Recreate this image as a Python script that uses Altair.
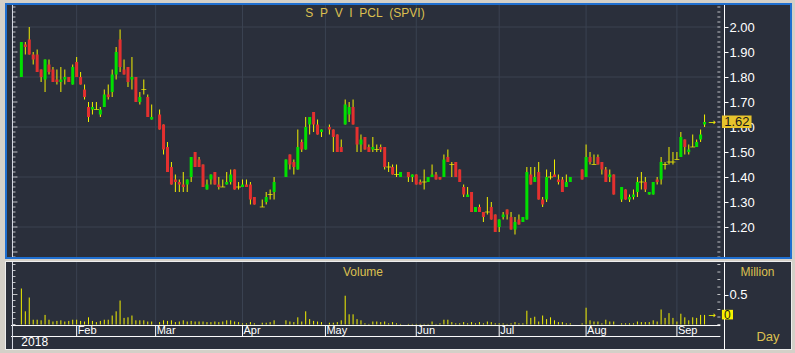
import altair as alt
import pandas as pd

# ---------------- data ----------------
START, END = "2018-01-12", "2018-09-12"
HOLIDAYS = ["2018-03-01", "2018-04-06", "2018-04-13", "2018-04-16", "2018-05-01",
            "2018-05-29", "2018-07-27", "2018-07-30", "2018-08-13"]
MONTH_LABELS = ["Feb", "Mar", "Apr", "May", "Jun", "Jul", "Aug", "Sep"]
YEAR_LABEL = "2018"
TITLE = "S\u00a0\u00a0P\u00a0\u00a0V\u00a0\u00a0I\u00a0\u00a0PCL\u00a0\u00a0(SPVI)"

OPEN = [1.80,1.93,1.95,1.89,1.89,1.83,1.79,1.85,1.83,1.79, 1.78,1.79,1.80,1.77,1.86,1.80,1.75,1.68,1.67,1.67,
        1.65,1.68,1.73,1.74,1.81,1.95,1.83,1.84,1.79,1.80, 1.70,1.75,1.72,1.63,
        1.65,1.61,1.52,1.44,1.39,1.38,1.37,1.37,1.40,1.50, 1.47,1.45,1.35,1.39,1.42,1.37,1.36,1.37,1.38,1.43,
        1.36,1.36,1.37,1.37,1.32,
        1.28,1.30,1.33,1.34,
        1.40,1.49,1.46,1.43,1.54,1.51,1.61,1.66,1.61,1.58,
        1.60,1.59,1.57,1.52,1.61,1.65,1.68,1.60,1.53,1.56, 1.52,1.51,1.51,1.52,1.52,1.44,1.44,1.41,1.40,
        1.42,1.40,1.41,1.38,1.38,1.38,1.40,1.41,1.40,1.40, 1.48,1.45,1.46,1.43,1.36,1.32,1.34,1.26,1.28,1.26,
        1.26,1.28,1.25,1.20,1.24,1.27,1.24,1.19,1.23,1.22, 1.23,1.41,1.38,1.42,1.31,1.31,1.40,1.41,1.39,1.39,
        1.36,1.38,
        1.43,1.40,1.48,1.45,1.48,1.46,1.43,1.40,1.41,
        1.31,1.35,1.31,1.32,1.34,1.38,1.38,1.33,1.33,1.39, 1.39,1.45,1.46,1.46,1.47,1.48,1.55,1.50,1.52,1.52,
        1.55,1.61]
HIGH = [1.94,1.94,2.00,1.90,1.91,1.83,1.87,1.87,1.84,1.83, 1.84,1.83,1.80,1.85,1.88,1.82,1.77,1.70,1.70,1.70,
        1.68,1.75,1.77,1.83,1.92,1.99,1.87,1.84,1.88,1.80, 1.74,1.79,1.73,1.69,
        1.67,1.61,1.54,1.46,1.41,1.39,1.42,1.39,1.48,1.50, 1.48,1.45,1.39,1.41,1.42,1.40,1.39,1.42,1.43,1.43,
        1.38,1.39,1.39,1.38,1.32,
        1.31,1.34,1.35,1.40,
        1.47,1.49,1.47,1.59,1.55,1.64,1.64,1.66,1.63,1.59,
        1.61,1.59,1.57,1.55,1.71,1.70,1.71,1.60,1.57,1.56, 1.53,1.56,1.53,1.53,1.52,1.46,1.45,1.45,1.42,
        1.42,1.41,1.41,1.39,1.43,1.40,1.45,1.42,1.40,1.49, 1.51,1.46,1.46,1.43,1.37,1.36,1.34,1.28,1.29,1.26,
        1.32,1.30,1.25,1.23,1.26,1.27,1.26,1.24,1.25,1.24, 1.44,1.44,1.44,1.46,1.32,1.43,1.42,1.47,1.41,1.40,
        1.41,1.40,
        1.43,1.53,1.50,1.49,1.49,1.46,1.44,1.43,1.41,
        1.36,1.35,1.33,1.35,1.40,1.42,1.40,1.34,1.38,1.40, 1.48,1.46,1.52,1.50,1.50,1.58,1.55,1.53,1.57,1.55,
        1.59,1.65]
LOW = [1.80,1.89,1.89,1.85,1.82,1.78,1.74,1.81,1.78,1.77, 1.74,1.77,1.78,1.77,1.80,1.77,1.71,1.62,1.65,1.67,
       1.64,1.68,1.71,1.72,1.79,1.82,1.81,1.76,1.75,1.70, 1.69,1.73,1.64,1.63,
       1.59,1.49,1.42,1.37,1.34,1.34,1.34,1.34,1.38,1.44, 1.44,1.36,1.35,1.37,1.37,1.35,1.36,1.37,1.37,1.35,
       1.35,1.36,1.36,1.29,1.29,
       1.28,1.29,1.31,1.31,
       1.40,1.43,1.41,1.43,1.50,1.51,1.57,1.58,1.57,1.56,
       1.57,1.50,1.50,1.50,1.61,1.62,1.61,1.50,1.50,1.51, 1.50,1.50,1.50,1.50,1.43,1.42,1.41,1.40,1.40,
       1.38,1.38,1.37,1.37,1.35,1.38,1.40,1.39,1.39,1.40, 1.46,1.40,1.40,1.38,1.32,1.32,1.26,1.26,1.26,1.22,
       1.25,1.23,1.18,1.18,1.23,1.23,1.19,1.17,1.21,1.22, 1.23,1.37,1.38,1.31,1.28,1.30,1.39,1.40,1.37,1.34,
       1.36,1.38,
       1.39,1.40,1.45,1.45,1.45,1.41,1.38,1.38,1.33,
       1.30,1.31,1.30,1.31,1.32,1.35,1.34,1.33,1.33,1.37, 1.37,1.43,1.45,1.45,1.47,1.48,1.49,1.49,1.52,1.52,
       1.54,1.60]
CLOSE = [1.94,1.92,1.89,1.87,1.82,1.80,1.87,1.82,1.78,1.78, 1.79,1.80,1.78,1.84,1.80,1.77,1.72,1.64,1.68,1.67,
         1.67,1.73,1.72,1.81,1.90,1.84,1.81,1.78,1.80,1.70, 1.72,1.75,1.64,1.64,
         1.59,1.51,1.42,1.37,1.38,1.37,1.36,1.39,1.48,1.44, 1.44,1.36,1.37,1.41,1.37,1.36,1.36,1.38,1.41,1.35,
         1.36,1.37,1.36,1.31,1.29,
         1.28,1.32,1.33,1.38,
         1.47,1.45,1.44,1.52,1.51,1.60,1.64,1.61,1.57,1.59,
         1.59,1.56,1.50,1.50,1.69,1.68,1.61,1.53,1.55,1.51, 1.50,1.52,1.51,1.51,1.44,1.44,1.41,1.41,1.42,
         1.40,1.41,1.37,1.37,1.38,1.40,1.41,1.39,1.39,1.47, 1.46,1.45,1.40,1.38,1.33,1.33,1.26,1.28,1.26,1.24,
         1.26,1.23,1.18,1.23,1.25,1.25,1.19,1.22,1.21,1.24, 1.42,1.37,1.40,1.31,1.29,1.40,1.40,1.40,1.38,1.34,
         1.38,1.40,
         1.39,1.48,1.46,1.45,1.45,1.43,1.38,1.41,1.33,
         1.36,1.31,1.32,1.33,1.38,1.38,1.35,1.34,1.38,1.38, 1.46,1.45,1.46,1.46,1.47,1.56,1.52,1.51,1.52,1.54,
         1.57,1.62]
VOLUME = [.60,.22,.45,.08,.08,.07,.16,.08,.05,.06, .07,.05,.06,.08,.08,.06,.05,.12,.06,.04,
          .06,.08,.08,.15,.22,.40,.11,.12,.15,.07, .07,.07,.05,.05,
          .04,.07,.06,.07,.04,.05,.07,.05,.06,.05, .05,.05,.04,.04,.05,.04,.05,.07,.07,.05,
          .04,.02,.02,.04,.02,
          .03,.03,.04,.07,
          .07,.05,.04,.12,.05,.22,.09,.06,.05,.04,
          .03,.03,.04,.07,.48,.17,.17,.09,.07,.02, .01,.05,.05,.04,.05,.02,.04,.02,.01,
          .01,.01,.01,.01,.01,.01,.05,.01,.02,.08, .08,.04,.02,.02,.04,.02,.04,.02,.04,.02,
          .05,.04,.02,.02,.02,.01,.02,.04,.02,.02, .23,.11,.13,.05,.15,.09,.12,.07,.04,.04,
          .02,.02,
          .02,.28,.07,.05,.05,.02,.08,.05,.05,
          .02,.02,.02,.02,.05,.04,.04,.04,.07,.05, .25,.11,.19,.11,.05,.18,.12,.07,.12,.11,
          .16,.16]

PRICE_LABELS = [1.2, 1.3, 1.4, 1.5, 1.6, 1.7, 1.8, 1.9, 2.0]
PRICE_GRID = [1.2, 1.4, 1.6, 1.8, 2.0]
VOL_LABELS = [0.5]
LAST_PRICE_TEXT = "1.62"
LAST_VOL_TEXT = "0"

# ---------------- styling / layout ----------------
BG = "#2a2f3b"
GRID = "#3a4251"
FRAME = "#d4d0c8"
BLUE = "#1f6fd0"
YEL = "#f2f000"
GOLD = "#dcc050"
GREEN = "#00e000"
RED = "#e3302f"
EDGE = "#d8dde6"
FONT = "Liberation Sans"

W, H = 785, 345                 # single view: price band 0..254, volume band 258..345
TOP_H, BOT_Y = 254, 258
X0, X1 = -2.625, 193.625        # weekday-slot domain (4 px per weekday)
AXIS_SLOT = 177.0               # slot where right axis sits
INNER_TICK_SLOT = 176.625       # 3px ticks just left of the right axis
EDGE_SLOT = -2.25               # left edge line
EDGE_MINOR_SLOT, EDGE_MAJOR_SLOT = -1.875, -1.625
P0, P1 = 1.076, 2.092
V0, V1 = -0.408, 1.042
AXIS_V, LOWER_V, LABEL_V, YEAR_V = -0.017, -0.2, -0.115, -0.29

# ---------------- tables ----------------
bdays = pd.bdate_range(START, END)
hol = set(pd.to_datetime(HOLIDAYS))
slots = [i for i, d in enumerate(bdays) if d not in hol]
assert len(slots) == len(OPEN) == len(HIGH) == len(LOW) == len(CLOSE) == len(VOLUME)
df = pd.DataFrame({"slot": slots, "o": OPEN, "h": HIGH, "l": LOW, "c": CLOSE, "v": VOLUME})
df["dir"] = ["up" if c > o else ("down" if c < o else "doji") for o, c in zip(df.o, df.c)]
df["zero"] = 0.0

first_slot = pd.Series(range(len(bdays)), index=bdays).groupby(bdays.to_period("M")).first()
months = pd.DataFrame({"slot": [int(s) for s in first_slot.values[1:]], "label": MONTH_LABELS})
months["p0"], months["p1"] = P0, P1
months["vt"], months["va"], months["vl"], months["vlab"] = V1, AXIS_V, LOWER_V, LABEL_V

last_c = float(df.c.iloc[-1])
last_v = float(df.v.iloc[-1])

xs = alt.Scale(domain=[X0, X1], nice=False, zero=False)
ps = alt.Scale(domain=[P0, P1], range=[TOP_H, 0], nice=False, zero=False)
vs = alt.Scale(domain=[V0, V1], range=[H, BOT_Y], nice=False, zero=False)
X = alt.X("slot:Q", scale=xs, axis=None)


def PY(f):
    return alt.Y(f, scale=ps, axis=None)


def VY(f):
    return alt.Y(f, scale=vs, axis=None)


one = pd.DataFrame({"k": [0]})

# ---------------- decoration: panel separator ----------------
sep = alt.Chart(one).mark_rect(color=FRAME).encode(
    x=alt.value(-2), x2=alt.value(W + 2), y=alt.value(TOP_H + 1), y2=alt.value(BOT_Y))

# ---------------- price panel ----------------
vgrid = alt.Chart(months).mark_rule(color=GRID).encode(x=X, y=PY("p0:Q"), y2="p1:Q")
hgrid_df = pd.DataFrame({"p": PRICE_GRID, "a": X0, "b": AXIS_SLOT})
hgrid = alt.Chart(hgrid_df).mark_rule(color=GRID).encode(
    y=PY("p:Q"), x=alt.X("a:Q", scale=xs, axis=None), x2="b:Q")
wick = alt.Chart(df).mark_rule(color=YEL, strokeWidth=1).encode(
    x=X,
    y=alt.Y("l:Q", scale=ps, axis=alt.Axis(
        orient="right", offset=-67, values=PRICE_LABELS, format=".2f", grid=False,
        domainColor="white", tickColor="white", tickSize=4, labelColor="white",
        labelFont=FONT, labelFontSize=13, labelPadding=1, title=None)),
    y2="h:Q")
body = alt.Chart(df).transform_filter("datum.o != datum.c").mark_bar(width=3).encode(
    x=X, y=PY("o:Q"), y2="c:Q",
    color=alt.Color("dir:N", scale=alt.Scale(domain=["up", "down"], range=[GREEN, RED]), legend=None))
doji = alt.Chart(df).transform_filter("datum.o == datum.c").mark_tick(
    orient="horizontal", size=5, thickness=1, color=YEL).encode(x=X, y=PY("o:Q"))

p_minor = [round(1.08 + 0.02 * k, 2) for k in range(51)]
pm = pd.DataFrame({"p": p_minor})
pm["major"] = [abs(p * 10 - round(p * 10)) < 1e-6 for p in p_minor]
pm["inner"], pm["edge_min"], pm["edge_maj"] = INNER_TICK_SLOT, EDGE_MINOR_SLOT, EDGE_MAJOR_SLOT
p_inner = alt.Chart(pm).mark_tick(orient="horizontal", size=3, thickness=1, color="white").encode(
    x=alt.X("inner:Q", scale=xs, axis=None), y=PY("p:Q"))
p_edge_min = alt.Chart(pm).transform_filter("!datum.major").mark_tick(
    orient="horizontal", size=3, thickness=1, color="white").encode(
    x=alt.X("edge_min:Q", scale=xs, axis=None), y=PY("p:Q"))
p_edge_maj = alt.Chart(pm).transform_filter("datum.major").mark_tick(
    orient="horizontal", size=5, thickness=1, color="white").encode(
    x=alt.X("edge_maj:Q", scale=xs, axis=None), y=PY("p:Q"))
edge_df = pd.DataFrame({"s": [EDGE_SLOT], "p0": [P0], "p1": [P1], "v0": [V0], "v1": [V1]})
p_edge_line = alt.Chart(edge_df).mark_rule(color=EDGE).encode(
    x=alt.X("s:Q", scale=xs, axis=None), y=PY("p0:Q"), y2="p1:Q")

ptag = pd.DataFrame({"p": [last_c], "pt": [last_c + 0.026], "pb": [last_c - 0.024],
                     "x1": [177.4], "x2": [184.9], "xt": [181.2], "xa": [174.9]})
ptag_box = alt.Chart(ptag).mark_rect(color="#e8c42c").encode(
    x=alt.X("x1:Q", scale=xs, axis=None), x2="x2:Q", y=PY("pt:Q"), y2="pb:Q")
ptag_txt = alt.Chart(ptag).mark_text(color="#1a1a1a", font=FONT, fontSize=13, baseline="middle",
                                     text=LAST_PRICE_TEXT).encode(
    x=alt.X("xt:Q", scale=xs, axis=None), y=PY("p:Q"))
ptag_arrow = alt.Chart(ptag).mark_text(color=YEL, font="DejaVu Sans", fontSize=9, baseline="middle",
                                       text="\u2192").encode(
    x=alt.X("xa:Q", scale=xs, axis=None), y=PY("p:Q"))
title = alt.Chart(one).mark_text(text=TITLE, color=GOLD, font=FONT, fontSize=12, baseline="middle").encode(
    x=alt.value(359), y=alt.value(9))

# ---------------- volume panel ----------------
vgrid_b = alt.Chart(months).mark_rule(color=GRID).encode(x=X, y=VY("vt:Q"), y2="va:Q")
vol = alt.Chart(df).mark_rule(color=YEL, strokeWidth=1).encode(
    x=X,
    y=alt.Y("v:Q", scale=vs, axis=alt.Axis(
        orient="right", offset=-67, values=VOL_LABELS, format=".1f", grid=False,
        domainColor="white", tickColor="white", tickSize=4, labelColor="white",
        labelFont=FONT, labelFontSize=13, labelPadding=1, title=None)),
    y2="zero:Q")
hl_df = pd.DataFrame({"y": [AXIS_V, LOWER_V], "a": X0, "b": AXIS_SLOT})
hlines = alt.Chart(hl_df).mark_rule(color="white").encode(
    y=VY("y:Q"), x=alt.X("a:Q", scale=xs, axis=None), x2="b:Q")
mticks = alt.Chart(months).mark_rule(color="white").encode(x=X, y=VY("va:Q"), y2="vl:Q")
mlabels = alt.Chart(months).mark_text(color="white", font=FONT, fontSize=11, align="left",
                                      baseline="middle", dx=1).encode(
    x=X, y=VY("vlab:Q"), text="label:N")
year = alt.Chart(pd.DataFrame({"slot": [0], "t": [YEAR_LABEL], "yv": [YEAR_V]})).mark_text(
    color="white", font=FONT, fontSize=12, align="left", baseline="middle").encode(
    x=X, y=VY("yv:Q"), text="t:N")

vm = pd.DataFrame({"v": [round(0.125 * k, 3) for k in range(9)], "inner": INNER_TICK_SLOT})
v_inner = alt.Chart(vm).mark_tick(orient="horizontal", size=3, thickness=1, color="white").encode(
    x=alt.X("inner:Q", scale=xs, axis=None), y=VY("v:Q"))
ve_vals = [round(0.1 * k, 1) for k in range(11)]
ve = pd.DataFrame({"v": ve_vals, "major": [abs(v - 0.5) < 1e-6 for v in ve_vals],
                   "edge_min": EDGE_MINOR_SLOT, "edge_maj": EDGE_MAJOR_SLOT})
v_edge_min = alt.Chart(ve).transform_filter("!datum.major").mark_tick(
    orient="horizontal", size=3, thickness=1, color="white").encode(
    x=alt.X("edge_min:Q", scale=xs, axis=None), y=VY("v:Q"))
v_edge_maj = alt.Chart(ve).transform_filter("datum.major").mark_tick(
    orient="horizontal", size=5, thickness=1, color="white").encode(
    x=alt.X("edge_maj:Q", scale=xs, axis=None), y=VY("v:Q"))
v_edge_line = alt.Chart(edge_df).mark_rule(color=EDGE).encode(
    x=alt.X("s:Q", scale=xs, axis=None), y=VY("v0:Q"), y2="v1:Q")

vol_title = alt.Chart(one).mark_text(text="Volume", color=GOLD, font=FONT, fontSize=12,
                                     baseline="middle").encode(x=alt.value(357), y=alt.value(267.5))
million = alt.Chart(one).mark_text(text="Million", color=GOLD, font=FONT, fontSize=12,
                                   baseline="middle").encode(x=alt.value(751.5), y=alt.value(267.5))
day = alt.Chart(one).mark_text(text="Day", color=GOLD, font=FONT, fontSize=13,
                               baseline="middle").encode(x=alt.value(762), y=alt.value(333))
vtag = pd.DataFrame({"v": [last_v], "vt": [last_v + 0.085], "vb": [last_v - 0.075],
                     "x1": [177.4], "x2": [180.2], "xt": [178.8], "xa": [174.9]})
vtag_box = alt.Chart(vtag).mark_rect(color="#f8f000").encode(
    x=alt.X("x1:Q", scale=xs, axis=None), x2="x2:Q", y=VY("vt:Q"), y2="vb:Q")
vtag_txt = alt.Chart(vtag).mark_text(color="#1a1a1a", font=FONT, fontSize=12, baseline="middle",
                                     text=LAST_VOL_TEXT).encode(
    x=alt.X("xt:Q", scale=xs, axis=None), y=VY("v:Q"))
vtag_arrow = alt.Chart(vtag).mark_text(color=YEL, font="DejaVu Sans", fontSize=9, baseline="middle",
                                       text="\u2192").encode(
    x=alt.X("xa:Q", scale=xs, axis=None), y=VY("v:Q"))

# ---------------- borders ----------------
top_border = alt.Chart(one).mark_rect(filled=False, stroke=BLUE, strokeWidth=2).encode(
    x=alt.value(0), x2=alt.value(W), y=alt.value(0), y2=alt.value(TOP_H))
bot_border = alt.Chart(one).mark_rect(filled=False, stroke="#eeeeee", strokeWidth=1).encode(
    x=alt.value(-0.5), x2=alt.value(W + 0.5), y=alt.value(BOT_Y - 0.5), y2=alt.value(H + 0.5))

chart = alt.layer(
    vgrid, hgrid, wick, body, doji, p_inner, p_edge_min, p_edge_maj, p_edge_line,
    ptag_box, ptag_txt, ptag_arrow, title,
    vgrid_b, vol, hlines, mticks, mlabels, year, v_inner, v_edge_min, v_edge_maj, v_edge_line,
    vol_title, million, day, vtag_box, vtag_txt, vtag_arrow,
    sep, top_border, bot_border,
).resolve_scale(y="independent").properties(
    width=W, height=H,
    padding={"left": 6, "top": 4, "right": 4, "bottom": 4},
    autosize=alt.AutoSizeParams(type="none"),
    background=FRAME,
).configure_view(fill=BG, strokeWidth=0)

chart.save("out.html", embed_options={"renderer": "svg", "actions": False})
